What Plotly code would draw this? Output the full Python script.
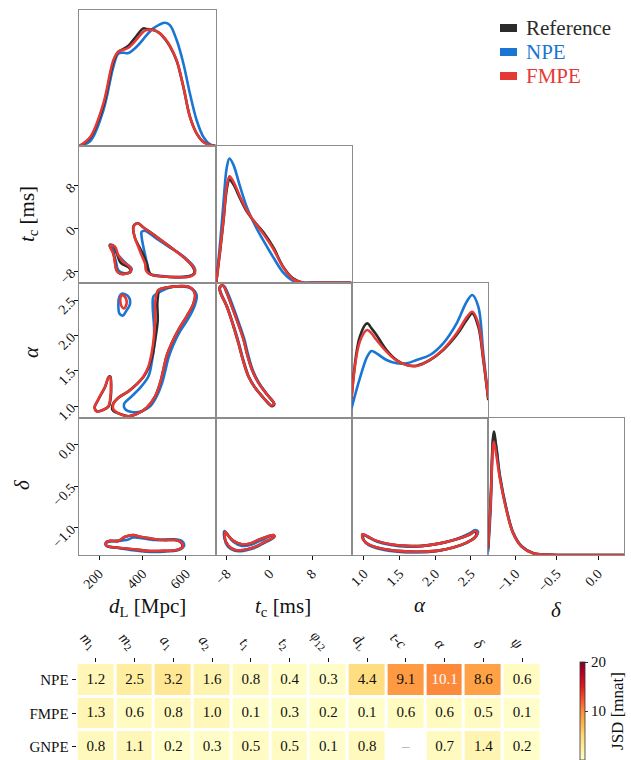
import plotly.graph_objects as go

W, H = 631, 760
FONT = "Liberation Serif"
C_REF, C_NPE, C_FMPE = "#2b2b2b", "#1976D2", "#E53935"
FRAME = "#8c8c8c"

# ---------------- 1D marginals (arbitrary density units) ----------------
DL_GRID = [109, 160, 220, 266, 289, 312, 335, 373, 404, 419, 450, 480, 503, 526, 557, 588, 618, 649, 680, 710, 737]
DL_REF = [0, 25, 120, 252, 282, 290, 300, 330, 352, 350, 347, 337, 320, 298, 255, 177, 88, 38, 12, 3, 0]
DL_NPE = [0, 15, 107, 237, 277, 279, 278, 297, 320, 332, 352, 364, 369, 362, 317, 247, 157, 77, 27, 5, 0]
DL_FMPE = [0, 27, 127, 257, 282, 288, 294, 319, 342, 347, 347, 337, 322, 300, 257, 177, 87, 37, 12, 3, 0]

TC_GRID = [-10.0, -9.26, -8.63, -8.0, -7.5, -6.75, -5.5, -4.25, -3.0, -1.13, 0.74, 2.6, 4.5, 6.36, 8.86, 15.4]
TC_REF = [0, 95, 185, 280, 307, 292, 250, 212, 185, 150, 105, 47, 12, 0, 0, 0]
TC_NPE = [0, 120, 240, 345, 370, 350, 285, 225, 180, 125, 75, 30, 5, 0, 0, 0]
TC_FMPE = [0, 100, 190, 290, 317, 300, 255, 215, 185, 145, 100, 45, 10, 0, 0, 0]

AL_GRID = [0.827, 0.944, 1.047, 1.108, 1.178, 1.318, 1.459, 1.599, 1.740, 1.927, 2.113, 2.301, 2.442, 2.521, 2.605, 2.675, 2.745]
AL_REF = [60, 245, 285, 270, 250, 205, 175, 160, 158, 175, 205, 250, 295, 315, 275, 175, 55]
AL_NPE = [30, 120, 185, 202, 195, 175, 165, 165, 175, 190, 225, 285, 350, 370, 335, 195, 60]
AL_FMPE = [60, 230, 265, 255, 235, 200, 173, 160, 157, 175, 207, 255, 303, 320, 285, 180, 60]

DE_GRID = [-1.332, -1.303, -1.263, -1.230, -1.190, -1.109, -1.029, -0.927, -0.787, -0.625, -0.45, 0.315]
DE_REF = [20, 160, 370, 315, 235, 135, 65, 25, 5, 1, 0, 0]
DE_NPE = [10, 130, 360, 320, 240, 138, 68, 27, 6, 1, 0, 0]
DE_FMPE = [20, 150, 340, 295, 230, 133, 65, 25, 5, 1, 0, 0]

# ---------------- 2D contours (closed outlines, data coords) ----------------
# d_L vs t_c
DLTC_REF_A_DL = [251, 270, 282, 300, 338, 345, 325, 296, 281, 275, 266, 249]
DLTC_REF_A_TC = [-3.0, -3.3, -4.6, -6.4, -7.3, -8.0, -8.4, -8.4, -7.8, -6.5, -4.6, -3.2]
DLTC_REF_B_DL = [362, 380, 403, 465, 527, 588, 632, 639, 617, 557, 496, 440, 428, 420, 405, 385, 366, 357]
DLTC_REF_B_TC = [0.70, 1.0, 0.25, -1.5, -3.4, -5.3, -7.2, -8.3, -8.9, -9.05, -8.94, -8.6, -7.9, -6.6, -5.0, -3.4, -1.8, 0.05]
DLTC_NPE_A_DL = [258, 289, 327, 350, 343, 312, 289, 278, 266]
DLTC_NPE_A_TC = [-3.1, -5.0, -6.6, -7.5, -8.1, -8.3, -7.8, -6.2, -4.4]
DLTC_NPE_B_DL = [396, 412, 465, 527, 596, 641, 634, 573, 496, 435, 427, 416, 404, 396]
DLTC_NPE_B_TC = [-0.59, -0.41, -1.85, -3.54, -5.43, -7.49, -8.56, -9.06, -8.87, -8.44, -7.49, -5.61, -3.42, -1.53]
DLTC_FMPE_A_DL = [254, 274, 289, 312, 343, 347, 327, 297, 281, 274, 266, 251]
DLTC_FMPE_A_TC = [-3.1, -3.4, -5.0, -6.2, -7.2, -7.9, -8.4, -8.4, -7.8, -6.6, -4.7, -3.3]
DLTC_FMPE_B_DL = [363, 381, 404, 465, 527, 588, 634, 641, 619, 557, 496, 435, 416, 412, 396, 381, 366, 358]
DLTC_FMPE_B_TC = [0.66, 0.97, 0.22, -1.53, -3.42, -5.30, -7.18, -8.31, -8.94, -9.06, -8.94, -8.56, -7.81, -6.55, -4.99, -3.42, -1.85, 0.03]

# d_L vs alpha
DLAL_REF_A_DL = [252, 256, 253, 245, 221, 190, 180, 198, 229, 244]
DLAL_REF_A_AL = [1.42, 1.29, 1.10, 1.00, 0.95, 0.93, 0.98, 1.10, 1.28, 1.41]
DLAL_REF_B_DL = [473, 542, 618, 641, 634, 603, 565, 534, 511, 496, 481, 458, 419, 373, 335, 297, 262, 264, 289, 335, 373, 406, 430, 448, 461, 470, 468, 472]
DLAL_REF_B_AL = [2.64, 2.69, 2.68, 2.59, 2.45, 2.27, 2.08, 1.89, 1.71, 1.52, 1.33, 1.14, 0.98, 0.89, 0.86, 0.89, 0.95, 1.03, 1.12, 1.21, 1.31, 1.42, 1.56, 1.75, 1.99, 2.22, 2.45, 2.59]
DLAL_NPE_A_DL = [304, 335, 343, 324, 309, 294, 289, 294]
DLAL_NPE_A_AL = [2.59, 2.55, 2.45, 2.34, 2.28, 2.31, 2.43, 2.55]
DLAL_NPE_B_DL = [465, 542, 626, 649, 641, 611, 573, 542, 519, 504, 488, 465, 435, 396, 350, 320, 315, 350, 389, 427, 442, 453, 453, 447, 450]
DLAL_NPE_B_AL = [2.59, 2.69, 2.66, 2.57, 2.43, 2.24, 2.06, 1.87, 1.68, 1.49, 1.31, 1.14, 1.00, 0.93, 0.92, 0.96, 1.03, 1.14, 1.26, 1.42, 1.61, 1.85, 2.13, 2.41, 2.55]
DLAL_FMPE_A_DL = [251, 255, 251, 243, 220, 189, 179, 197, 228, 243]
DLAL_FMPE_A_AL = [1.41, 1.28, 1.10, 1.00, 0.95, 0.93, 0.98, 1.10, 1.28, 1.40]
DLAL_FMPE_B_DL = [473, 542, 618, 641, 634, 603, 565, 534, 511, 496, 481, 458, 419, 373, 335, 297, 266, 266, 289, 335, 373, 404, 427, 442, 453, 458, 458, 465]
DLAL_FMPE_B_AL = [2.64, 2.69, 2.68, 2.59, 2.45, 2.27, 2.08, 1.89, 1.71, 1.52, 1.33, 1.14, 0.98, 0.89, 0.86, 0.89, 0.96, 1.03, 1.12, 1.21, 1.31, 1.42, 1.56, 1.75, 1.99, 2.22, 2.45, 2.59]
DLAL_FMPE_C_DL = [309, 324, 327, 315, 304, 298, 300]
DLAL_FMPE_C_AL = [2.57, 2.52, 2.45, 2.38, 2.41, 2.48, 2.55]

# t_c vs alpha
TCAL_REF_TC = [-9.30, -8.66, -8.13, -7.05, -5.80, -4.86, -4.24, -3.30, -2.05, -0.49, 0.92, 0.47, -1.13, -2.70, -3.95, -5.01, -5.84, -6.78, -8.03, -9.15, -9.40]
TCAL_REF_AL = [2.69, 2.70, 2.62, 2.41, 2.15, 1.94, 1.75, 1.52, 1.33, 1.17, 1.03, 1.00, 1.12, 1.26, 1.42, 1.66, 1.89, 2.13, 2.41, 2.59, 2.66]
TCAL_NPE_TC = [-9.20, -8.55, -7.95, -6.85, -5.62, -4.70, -4.08, -3.18, -1.97, -0.45, 0.82, 0.40, -1.13, -2.66, -3.88, -4.92, -5.74, -6.70, -7.95, -9.05, -9.32]
TCAL_NPE_AL = [2.69, 2.70, 2.62, 2.41, 2.15, 1.94, 1.75, 1.52, 1.33, 1.17, 1.04, 1.01, 1.12, 1.26, 1.42, 1.66, 1.89, 2.13, 2.41, 2.59, 2.66]
TCAL_FMPE_TC = [-9.26, -8.63, -8.13, -7.07, -5.82, -4.88, -4.26, -3.32, -2.07, -0.51, 0.86, 0.43, -1.13, -2.70, -3.95, -5.01, -5.82, -6.76, -8.01, -9.13, -9.38]
TCAL_FMPE_AL = [2.69, 2.70, 2.62, 2.41, 2.15, 1.94, 1.75, 1.52, 1.33, 1.17, 1.04, 1.01, 1.12, 1.26, 1.42, 1.66, 1.89, 2.13, 2.41, 2.59, 2.66]

# d_L vs delta
DLDE_REF_DL = [232, 251, 289, 320, 358, 389, 435, 496, 549, 578, 583, 557, 496, 419, 358, 281, 235]
DLDE_REF_DE = [-1.18, -1.16, -1.16, -1.11, -1.09, -1.11, -1.13, -1.15, -1.15, -1.18, -1.23, -1.27, -1.28, -1.28, -1.26, -1.24, -1.22]
DLDE_NPE_DL = [235, 281, 327, 358, 404, 465, 542, 580, 591, 565, 496, 419, 343, 274, 235]
DLDE_NPE_DE = [-1.18, -1.16, -1.15, -1.12, -1.13, -1.15, -1.14, -1.16, -1.22, -1.27, -1.29, -1.29, -1.27, -1.24, -1.22]
DLDE_FMPE_DL = [232, 251, 289, 320, 358, 389, 435, 496, 549, 580, 585, 557, 496, 419, 358, 281, 235]
DLDE_FMPE_DE = [-1.18, -1.16, -1.16, -1.11, -1.09, -1.11, -1.13, -1.15, -1.15, -1.18, -1.23, -1.27, -1.28, -1.28, -1.26, -1.24, -1.22]

# t_c vs delta
TCDE_REF_TC = [-8.35, -7.70, -6.76, -5.19, -3.63, -1.76, 0.80, 0.92, -0.82, -3.01, -4.88, -6.44, -7.70, -8.35]
TCDE_REF_DE = [-1.05, -1.10, -1.16, -1.20, -1.19, -1.14, -1.09, -1.11, -1.17, -1.24, -1.27, -1.27, -1.22, -1.14]
TCDE_NPE_TC = [-8.45, -7.80, -6.80, -5.20, -3.60, -1.80, 0.60, 0.75, -0.90, -3.00, -4.90, -6.50, -7.80, -8.45]
TCDE_NPE_DE = [-1.04, -1.09, -1.17, -1.22, -1.21, -1.16, -1.10, -1.12, -1.18, -1.25, -1.28, -1.28, -1.23, -1.13]
TCDE_FMPE_TC = [-8.32, -7.69, -6.76, -5.19, -3.63, -1.76, 0.74, 0.86, -0.82, -3.01, -4.88, -6.44, -7.69, -8.32]
TCDE_FMPE_DE = [-1.05, -1.10, -1.16, -1.20, -1.19, -1.14, -1.09, -1.11, -1.17, -1.24, -1.27, -1.27, -1.22, -1.14]

# alpha vs delta
ALDE_REF_AL = [0.98, 1.04, 1.18, 1.37, 1.60, 1.83, 2.07, 2.30, 2.49, 2.55, 2.58, 2.55, 2.44, 2.25, 2.02, 1.74, 1.46, 1.23, 1.06, 0.99]
ALDE_REF_DE = [-1.08, -1.10, -1.16, -1.20, -1.22, -1.22, -1.19, -1.14, -1.08, -1.05, -1.07, -1.12, -1.18, -1.24, -1.28, -1.29, -1.28, -1.25, -1.20, -1.14]
ALDE_NPE_AL = [0.99, 1.05, 1.19, 1.38, 1.60, 1.83, 2.06, 2.29, 2.48, 2.56, 2.60, 2.57, 2.45, 2.26, 2.03, 1.75, 1.47, 1.24, 1.07, 1.00]
ALDE_NPE_DE = [-1.09, -1.11, -1.17, -1.21, -1.23, -1.22, -1.19, -1.14, -1.07, -1.03, -1.05, -1.11, -1.18, -1.24, -1.28, -1.30, -1.29, -1.26, -1.21, -1.15]
ALDE_FMPE_AL = [0.98, 1.04, 1.18, 1.37, 1.60, 1.83, 2.07, 2.30, 2.49, 2.56, 2.59, 2.56, 2.44, 2.25, 2.02, 1.74, 1.46, 1.23, 1.06, 0.99]
ALDE_FMPE_DE = [-1.08, -1.10, -1.16, -1.20, -1.22, -1.22, -1.19, -1.14, -1.08, -1.04, -1.06, -1.12, -1.18, -1.24, -1.28, -1.29, -1.28, -1.25, -1.20, -1.14]

# ---------------- JSD table ----------------
JSD_PARAMS = ["<i>m</i><sub>1</sub>", "<i>m</i><sub>2</sub>", "<i>a</i><sub>1</sub>", "<i>a</i><sub>2</sub>",
              "<i>t</i><sub>1</sub>", "<i>t</i><sub>2</sub>", "<i>φ</i><sub>12</sub>", "<i>d</i><sub>L</sub>",
              "<i>t</i>-<i>c</i>", "<i>α</i>", "<i>δ</i>", "<i>ψ</i>"]
JSD_METHODS = ["NPE", "FMPE", "GNPE"]
JSD_NPE = [1.2, 2.5, 3.2, 1.6, 0.8, 0.4, 0.3, 4.4, 9.1, 10.1, 8.6, 0.6]
JSD_FMPE = [1.3, 0.6, 0.8, 1.0, 0.1, 0.3, 0.2, 0.1, 0.6, 0.6, 0.5, 0.1]
JSD_GNPE = [0.8, 1.1, 0.2, 0.3, 0.5, 0.5, 0.1, 0.8, None, 0.7, 1.4, 0.2]

# ---------------- axes config ----------------
COLS = [(79.3, 215.7), (215.7, 351.7), (351.7, 488.3), (488.3, 624.3)]
ROWS = [(10, 146), (146, 282.7), (282.7, 418.3), (418.3, 555)]
RANGES = {"dL": [109.4, 736.6], "tc": [-10.1, 15.45], "al": [0.83, 2.745], "de": [-1.33, 0.318]}
TICKV = {"dL": [200, 400, 600], "tc": [-8, 0, 8], "al": [1.0, 1.5, 2.0, 2.5], "de": [-1.0, -0.5, 0.0]}
TICKT = {"dL": ["200", "400", "600"], "tc": ["−8", "0", "8"], "al": ["1.0", "1.5", "2.0", "2.5"],
         "de": ["−1.0", "−0.5", "0.0"]}
PARAMS = ["dL", "tc", "al", "de"]
DIAG_TOP = {"dL": 407, "tc": 407, "al": 407, "de": 410}

fig = go.Figure()
layout = {}
idx = 0
panel_axes = {}
for r in range(4):
    for c in range(r + 1):
        idx += 1
        sx = "" if idx == 1 else str(idx)
        panel_axes[(r, c)] = ("x" + sx, "y" + sx)
        px_ = PARAMS[c]
        py_ = PARAMS[r]
        tickfont = dict(family=FONT, size=14, color="#111")
        layout["xaxis" + sx] = dict(
            domain=[COLS[c][0] / W, COLS[c][1] / W], range=RANGES[px_], anchor="y" + sx,
            showline=True, mirror=True, linecolor=FRAME, linewidth=1.3, showgrid=False, zeroline=False,
            ticks="outside" if r == 3 else "", ticklen=4, tickcolor="#111",
            showticklabels=(r == 3), tickvals=TICKV[px_], ticktext=TICKT[px_], tickangle=-45,
            tickfont=tickfont, fixedrange=True, automargin=False)
        if r == c:
            yr = [0, DIAG_TOP[px_]]
            yticks = dict(ticks="", showticklabels=False)
        else:
            yr = RANGES[py_]
            yticks = dict(ticks="outside" if c == 0 else "", showticklabels=(c == 0),
                          tickvals=TICKV[py_], ticktext=TICKT[py_])
        layout["yaxis" + sx] = dict(
            domain=[1 - ROWS[r][1] / H, 1 - ROWS[r][0] / H], range=yr, anchor="x" + sx,
            showline=True, mirror=True, linecolor=FRAME, linewidth=1.3, showgrid=False, zeroline=False,
            ticklen=4, tickcolor="#111", tickangle=-45, tickfont=tickfont, fixedrange=True,
            automargin=False, **yticks)

LW = 2.6


def line(x, y, color, r, c, closed=False):
    xs, ys = list(x), list(y)
    if closed:
        xs.append(xs[0])
        ys.append(ys[0])
    xa, ya = panel_axes[(r, c)]
    fig.add_trace(go.Scatter(x=xs, y=ys, mode="lines", line=dict(color=color, width=LW, shape="spline", smoothing=1.0),
                             xaxis=xa, yaxis=ya, showlegend=False, hoverinfo="skip"))


# diagonals: NPE, Reference, FMPE order
for grid, ref, npe, fm, k in [(DL_GRID, DL_REF, DL_NPE, DL_FMPE, 0), (TC_GRID, TC_REF, TC_NPE, TC_FMPE, 1),
                              (AL_GRID, AL_REF, AL_NPE, AL_FMPE, 2), (DE_GRID, DE_REF, DE_NPE, DE_FMPE, 3)]:
    line(grid, npe, C_NPE, k, k)
    line(grid, ref, C_REF, k, k)
    line(grid, fm, C_FMPE, k, k)

# off-diagonal contours
contours = [
    (1, 0, [(DLTC_NPE_A_DL, DLTC_NPE_A_TC), (DLTC_NPE_B_DL, DLTC_NPE_B_TC)],
     [(DLTC_REF_A_DL, DLTC_REF_A_TC), (DLTC_REF_B_DL, DLTC_REF_B_TC)],
     [(DLTC_FMPE_A_DL, DLTC_FMPE_A_TC), (DLTC_FMPE_B_DL, DLTC_FMPE_B_TC)]),
    (2, 0, [(DLAL_NPE_A_DL, DLAL_NPE_A_AL), (DLAL_NPE_B_DL, DLAL_NPE_B_AL)],
     [(DLAL_REF_A_DL, DLAL_REF_A_AL), (DLAL_REF_B_DL, DLAL_REF_B_AL)],
     [(DLAL_FMPE_A_DL, DLAL_FMPE_A_AL), (DLAL_FMPE_B_DL, DLAL_FMPE_B_AL), (DLAL_FMPE_C_DL, DLAL_FMPE_C_AL)]),
    (2, 1, [(TCAL_NPE_TC, TCAL_NPE_AL)], [(TCAL_REF_TC, TCAL_REF_AL)], [(TCAL_FMPE_TC, TCAL_FMPE_AL)]),
    (3, 0, [(DLDE_NPE_DL, DLDE_NPE_DE)], [(DLDE_REF_DL, DLDE_REF_DE)], [(DLDE_FMPE_DL, DLDE_FMPE_DE)]),
    (3, 1, [(TCDE_NPE_TC, TCDE_NPE_DE)], [(TCDE_REF_TC, TCDE_REF_DE)], [(TCDE_FMPE_TC, TCDE_FMPE_DE)]),
    (3, 2, [(ALDE_NPE_AL, ALDE_NPE_DE)], [(ALDE_REF_AL, ALDE_REF_DE)], [(ALDE_FMPE_AL, ALDE_FMPE_DE)]),
]
for r, c, npe, ref, fm in contours:
    for xs, ys in npe:
        line(xs, ys, C_NPE, r, c, closed=True)
    for xs, ys in ref:
        line(xs, ys, C_REF, r, c, closed=True)
    for xs, ys in fm:
        line(xs, ys, C_FMPE, r, c, closed=True)

# ---------------- heatmap ----------------
YLORRD = [[0.0, "#ffffcc"], [0.125, "#ffeda0"], [0.25, "#fed976"], [0.375, "#feb24c"], [0.5, "#fd8d3c"],
          [0.625, "#fc4e2a"], [0.75, "#e31a1c"], [0.875, "#bd0026"], [1.0, "#800026"]]
Z = [JSD_NPE, JSD_FMPE, JSD_GNPE]
HM_TOP, HM_BOT, HM_PITCH = 663, 760, 33.5
HM_LEFT, HM_RIGHT = 76.6, 541.4
layout["xaxis11"] = dict(domain=[HM_LEFT / W, HM_RIGHT / W], range=[-0.5, len(JSD_PARAMS) - 0.5], anchor="y11",
                         side="top", tickvals=list(range(len(JSD_PARAMS))), ticktext=JSD_PARAMS, tickangle=45,
                         ticks="outside", ticklen=4, tickcolor="#111", showline=False, showgrid=False,
                         zeroline=False, tickfont=dict(family=FONT, size=15, color="#111"), fixedrange=True,
                         automargin=False)
layout["yaxis11"] = dict(domain=[0, (H - HM_TOP) / H], range=[-0.5 + (HM_BOT - HM_TOP) / HM_PITCH, -0.5],
                         anchor="x11", tickvals=list(range(len(JSD_METHODS))), ticktext=JSD_METHODS,
                         ticks="outside", ticklen=4, tickcolor="#111", showline=False, showgrid=False,
                         zeroline=False, tickfont=dict(family=FONT, size=15, color="#111"), fixedrange=True,
                         automargin=False)

fig.add_trace(go.Heatmap(
    z=Z, x=list(range(len(JSD_PARAMS))), y=list(range(len(JSD_METHODS))), colorscale=YLORRD, zmin=0, zmax=20,
    xgap=3, ygap=3, xaxis="x11", yaxis="y11", hoverinfo="skip",
    colorbar=dict(x=580 / W, xanchor="left", xpad=0, y=(H - 662) / H, yanchor="top", ypad=0,
                  len=98, lenmode="pixels", thickness=5, thicknessmode="pixels",
                  outlinewidth=0.8, outlinecolor="#333", tickvals=[0, 10, 20], ticks="outside", ticklen=3,
                  tickcolor="#333", tickfont=dict(family=FONT, size=15, color="#111"),
                  title=dict(text="JSD [mnat]", side="right", font=dict(family=FONT, size=17, color="#111")))))

tx, ty, tt, tc = [], [], [], []
for i, row in enumerate(Z):
    for j, v in enumerate(row):
        tx.append(j)
        ty.append(i)
        tt.append("–" if v is None else f"{v:.1f}")
        tc.append("#aaaaaa" if v is None else ("white" if v >= 10 else "#111"))
fig.add_trace(go.Scatter(x=tx, y=ty, mode="text", text=tt, textfont=dict(family=FONT, size=15, color=tc),
                         xaxis="x11", yaxis="y11", showlegend=False, hoverinfo="skip"))

# ---------------- titles & legend ----------------
ann = []
tfont = dict(family=FONT, size=21, color="#111")
for txt, x, y in [("<i>d</i><sub>L</sub> [Mpc]", 147, 607), ("<i>t</i><sub>c</sub> [ms]", 283, 607),
                  ("<i>α</i>", 420, 605), ("<i>δ</i>", 556, 610)]:
    ann.append(dict(text=txt, x=x / W, y=1 - y / H, xref="paper", yref="paper", showarrow=False,
                    xanchor="center", yanchor="middle", font=tfont))
for txt, x, y in [("<i>t</i><sub>c</sub> [ms]", 28, 214), ("<i>α</i>", 31, 352), ("<i>δ</i>", 22, 485)]:
    ann.append(dict(text=txt, x=x / W, y=1 - y / H, xref="paper", yref="paper", showarrow=False,
                    xanchor="center", yanchor="middle", textangle=-90, font=tfont))

shapes = []
for name, col, y in [("Reference", C_REF, 28), ("NPE", C_NPE, 52), ("FMPE", C_FMPE, 76)]:
    shapes.append(dict(type="rect", xref="paper", yref="paper", x0=500 / W, x1=517 / W,
                       y0=1 - (y + 4) / H, y1=1 - (y - 4) / H, fillcolor=col, line=dict(width=0)))
    ann.append(dict(text=name, x=524 / W, y=1 - y / H, xref="paper", yref="paper", showarrow=False,
                    xanchor="left", yanchor="middle", font=dict(family=FONT, size=21, color=col)))

fig.update_layout(width=W, height=H, margin=dict(l=0, r=0, t=0, b=0, pad=0, autoexpand=False),
                  paper_bgcolor="white", plot_bgcolor="white", showlegend=False, annotations=ann, shapes=shapes,
                  font=dict(family=FONT), **layout)
fig.write_html("out.html", config={"displayModeBar": False},
               post_script="document.body.style.margin='0';")
